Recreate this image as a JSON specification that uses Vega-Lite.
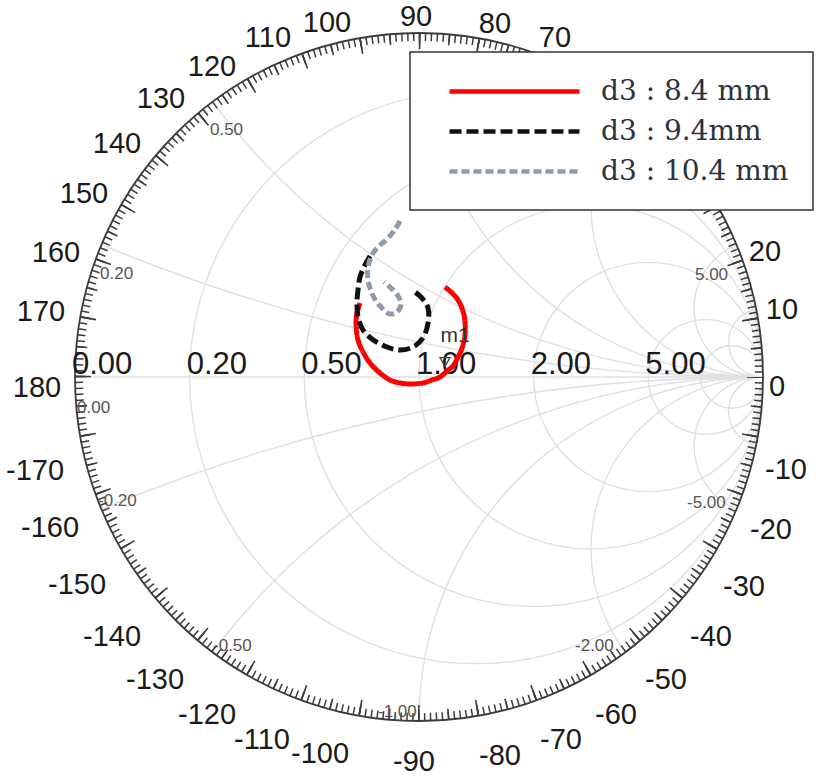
{
  "$schema": "https://vega.github.io/schema/vega-lite/v6.json",
  "width": 688,
  "height": 688,
  "autosize": {"type": "none"},
  "padding": {"left": 75, "top": 33, "right": 64, "bottom": 58},
  "background": "white",
  "config": {"view": {"stroke": null}},
  "datasets": {
    "grid": [
      {"name": "r0.2", "cx": 0.16667, "cy": 0, "rad": 0.83333},
      {"name": "r0.5", "cx": 0.33333, "cy": 0, "rad": 0.66667},
      {"name": "r1", "cx": 0.5, "cy": 0, "rad": 0.5},
      {"name": "r2", "cx": 0.66667, "cy": 0, "rad": 0.33333},
      {"name": "r5", "cx": 0.83333, "cy": 0, "rad": 0.16667},
      {"name": "r10", "cx": 0.90909, "cy": 0, "rad": 0.090909},
      {"name": "x0.2", "cx": 1, "cy": 5, "rad": 5},
      {"name": "x-0.2", "cx": 1, "cy": -5, "rad": 5},
      {"name": "x0.5", "cx": 1, "cy": 2, "rad": 2},
      {"name": "x-0.5", "cx": 1, "cy": -2, "rad": 2},
      {"name": "x1", "cx": 1, "cy": 1, "rad": 1},
      {"name": "x-1", "cx": 1, "cy": -1, "rad": 1},
      {"name": "x2", "cx": 1, "cy": 0.5, "rad": 0.5},
      {"name": "x-2", "cx": 1, "cy": -0.5, "rad": 0.5},
      {"name": "x5", "cx": 1, "cy": 0.2, "rad": 0.2},
      {"name": "x-5", "cx": 1, "cy": -0.2, "rad": 0.2},
      {"name": "x10", "cx": 1, "cy": 0.1, "rad": 0.1},
      {"name": "x-10", "cx": 1, "cy": -0.1, "rad": 0.1}
    ],
    "angles": [
      {"t": "0", "gx": 1.0407, "gy": -0.0291},
      {"t": "10", "gx": 1.0552, "gy": 0.1948},
      {"t": "20", "gx": 1.0058, "gy": 0.3634},
      {"t": "70", "gx": 0.3953, "gy": 0.9855},
      {"t": "80", "gx": 0.2209, "gy": 1.0262},
      {"t": "90", "gx": -0.0087, "gy": 1.0465},
      {"t": "100", "gx": -0.2674, "gy": 1.0291},
      {"t": "110", "gx": -0.4390, "gy": 0.9855},
      {"t": "120", "gx": -0.6017, "gy": 0.9012},
      {"t": "130", "gx": -0.7500, "gy": 0.8081},
      {"t": "140", "gx": -0.8779, "gy": 0.6773},
      {"t": "150", "gx": -0.9738, "gy": 0.5320},
      {"t": "160", "gx": -1.0552, "gy": 0.3605},
      {"t": "170", "gx": -1.0988, "gy": 0.1890},
      {"t": "180", "gx": -1.1105, "gy": -0.0320},
      {"t": "-170", "gx": -1.1163, "gy": -0.2733},
      {"t": "-160", "gx": -1.0727, "gy": -0.4390},
      {"t": "-150", "gx": -0.9942, "gy": -0.6047},
      {"t": "-140", "gx": -0.8924, "gy": -0.7558},
      {"t": "-130", "gx": -0.7674, "gy": -0.8808},
      {"t": "-120", "gx": -0.6163, "gy": -0.9826},
      {"t": "-110", "gx": -0.4564, "gy": -1.0552},
      {"t": "-100", "gx": -0.2878, "gy": -1.0959},
      {"t": "-90", "gx": -0.0145, "gy": -1.1192},
      {"t": "-80", "gx": 0.2355, "gy": -1.1017},
      {"t": "-70", "gx": 0.4128, "gy": -1.0552},
      {"t": "-60", "gx": 0.5727, "gy": -0.9826},
      {"t": "-50", "gx": 0.7180, "gy": -0.8808},
      {"t": "-40", "gx": 0.8488, "gy": -0.7558},
      {"t": "-30", "gx": 0.9448, "gy": -0.6105},
      {"t": "-20", "gx": 1.0233, "gy": -0.4448},
      {"t": "-10", "gx": 1.0669, "gy": -0.2703}
    ],
    "rlabels": [
      {"t": "0.00", "gx": -1.0087, "gy": 0.0349},
      {"t": "0.20", "gx": -0.6754, "gy": 0.0349},
      {"t": "0.50", "gx": -0.3420, "gy": 0.0349},
      {"t": "1.00", "gx": -0.0087, "gy": 0.0349},
      {"t": "2.00", "gx": 0.3246, "gy": 0.0349},
      {"t": "5.00", "gx": 0.6580, "gy": 0.0349}
    ],
    "xlabels": [
      {"t": "0.50", "gx": -0.6076, "gy": 0.7180},
      {"t": "0.20", "gx": -0.9273, "gy": 0.2994},
      {"t": "0.00", "gx": -0.9942, "gy": -0.0901},
      {"t": "-0.20", "gx": -0.9331, "gy": -0.3605},
      {"t": "-0.50", "gx": -0.5988, "gy": -0.7820},
      {"t": "-1.00", "gx": -0.1192, "gy": -0.9738},
      {"t": "-2.00", "gx": 0.4535, "gy": -0.7820},
      {"t": "-5.00", "gx": 0.7791, "gy": -0.3663},
      {"t": "5.00", "gx": 0.8023, "gy": 0.2965}
    ],
    "curves": [
      {"d3": "d3 : 8.4 mm", "i": 0, "gx": -0.1715, "gy": 0.2151},
      {"d3": "d3 : 8.4 mm", "i": 1, "gx": -0.1802, "gy": 0.1860},
      {"d3": "d3 : 8.4 mm", "i": 2, "gx": -0.1831, "gy": 0.1570},
      {"d3": "d3 : 8.4 mm", "i": 3, "gx": -0.1773, "gy": 0.1076},
      {"d3": "d3 : 8.4 mm", "i": 4, "gx": -0.1657, "gy": 0.0785},
      {"d3": "d3 : 8.4 mm", "i": 5, "gx": -0.1424, "gy": 0.0407},
      {"d3": "d3 : 8.4 mm", "i": 6, "gx": -0.1134, "gy": 0.0116},
      {"d3": "d3 : 8.4 mm", "i": 7, "gx": -0.0843, "gy": -0.0087},
      {"d3": "d3 : 8.4 mm", "i": 8, "gx": -0.0552, "gy": -0.0174},
      {"d3": "d3 : 8.4 mm", "i": 9, "gx": -0.0262, "gy": -0.0203},
      {"d3": "d3 : 8.4 mm", "i": 10, "gx": 0.0116, "gy": -0.0174},
      {"d3": "d3 : 8.4 mm", "i": 11, "gx": 0.0378, "gy": -0.0087},
      {"d3": "d3 : 8.4 mm", "i": 12, "gx": 0.0610, "gy": 0.0},
      {"d3": "d3 : 8.4 mm", "i": 13, "gx": 0.0814, "gy": 0.0174},
      {"d3": "d3 : 8.4 mm", "i": 14, "gx": 0.0988, "gy": 0.0320},
      {"d3": "d3 : 8.4 mm", "i": 15, "gx": 0.1134, "gy": 0.0581},
      {"d3": "d3 : 8.4 mm", "i": 16, "gx": 0.1250, "gy": 0.0843},
      {"d3": "d3 : 8.4 mm", "i": 17, "gx": 0.1337, "gy": 0.1221},
      {"d3": "d3 : 8.4 mm", "i": 18, "gx": 0.1337, "gy": 0.1599},
      {"d3": "d3 : 8.4 mm", "i": 19, "gx": 0.1279, "gy": 0.1919},
      {"d3": "d3 : 8.4 mm", "i": 20, "gx": 0.1134, "gy": 0.2238},
      {"d3": "d3 : 8.4 mm", "i": 21, "gx": 0.0959, "gy": 0.2442},
      {"d3": "d3 : 8.4 mm", "i": 22, "gx": 0.0756, "gy": 0.2616},
      {"d3": "d3 : 9.4mm", "i": 0, "gx": -0.1424, "gy": 0.3517},
      {"d3": "d3 : 9.4mm", "i": 1, "gx": -0.1570, "gy": 0.3256},
      {"d3": "d3 : 9.4mm", "i": 2, "gx": -0.1715, "gy": 0.2907},
      {"d3": "d3 : 9.4mm", "i": 3, "gx": -0.1773, "gy": 0.2529},
      {"d3": "d3 : 9.4mm", "i": 4, "gx": -0.1802, "gy": 0.2180},
      {"d3": "d3 : 9.4mm", "i": 5, "gx": -0.1773, "gy": 0.1744},
      {"d3": "d3 : 9.4mm", "i": 6, "gx": -0.1628, "gy": 0.1366},
      {"d3": "d3 : 9.4mm", "i": 7, "gx": -0.1366, "gy": 0.1105},
      {"d3": "d3 : 9.4mm", "i": 8, "gx": -0.0930, "gy": 0.0872},
      {"d3": "d3 : 9.4mm", "i": 9, "gx": -0.0552, "gy": 0.0785},
      {"d3": "d3 : 9.4mm", "i": 10, "gx": -0.0174, "gy": 0.0872},
      {"d3": "d3 : 9.4mm", "i": 11, "gx": 0.0116, "gy": 0.1134},
      {"d3": "d3 : 9.4mm", "i": 12, "gx": 0.0262, "gy": 0.1570},
      {"d3": "d3 : 9.4mm", "i": 13, "gx": 0.0262, "gy": 0.2006},
      {"d3": "d3 : 9.4mm", "i": 14, "gx": 0.0058, "gy": 0.2326},
      {"d3": "d3 : 9.4mm", "i": 15, "gx": -0.0203, "gy": 0.2529},
      {"d3": "d3 : 10.4 mm", "i": 0, "gx": -0.0552, "gy": 0.4535},
      {"d3": "d3 : 10.4 mm", "i": 1, "gx": -0.0727, "gy": 0.4244},
      {"d3": "d3 : 10.4 mm", "i": 2, "gx": -0.0959, "gy": 0.3983},
      {"d3": "d3 : 10.4 mm", "i": 3, "gx": -0.1221, "gy": 0.3750},
      {"d3": "d3 : 10.4 mm", "i": 4, "gx": -0.1395, "gy": 0.3488},
      {"d3": "d3 : 10.4 mm", "i": 5, "gx": -0.1483, "gy": 0.3169},
      {"d3": "d3 : 10.4 mm", "i": 6, "gx": -0.1483, "gy": 0.2820},
      {"d3": "d3 : 10.4 mm", "i": 7, "gx": -0.1395, "gy": 0.2500},
      {"d3": "d3 : 10.4 mm", "i": 8, "gx": -0.1250, "gy": 0.2209},
      {"d3": "d3 : 10.4 mm", "i": 9, "gx": -0.1047, "gy": 0.1977},
      {"d3": "d3 : 10.4 mm", "i": 10, "gx": -0.0843, "gy": 0.1831},
      {"d3": "d3 : 10.4 mm", "i": 11, "gx": -0.0640, "gy": 0.1890},
      {"d3": "d3 : 10.4 mm", "i": 12, "gx": -0.0523, "gy": 0.2122},
      {"d3": "d3 : 10.4 mm", "i": 13, "gx": -0.0610, "gy": 0.2355},
      {"d3": "d3 : 10.4 mm", "i": 14, "gx": -0.0814, "gy": 0.2587},
      {"d3": "d3 : 10.4 mm", "i": 15, "gx": -0.1017, "gy": 0.2762}
    ]
  },
  "layer": [
    {
      "data": {"name": "grid"},
      "mark": {"type": "point", "shape": "circle", "filled": false, "stroke": "#e0e0e0", "strokeWidth": 1.4, "opacity": 1},
      "encoding": {
        "x": {"field": "cx", "type": "quantitative", "scale": {"domain": [-1, 1], "nice": false, "zero": false}, "axis": null},
        "y": {"field": "cy", "type": "quantitative", "scale": {"domain": [-1, 1], "nice": false, "zero": false}, "axis": null},
        "size": {"field": "rad", "type": "quantitative", "scale": {"type": "pow", "exponent": 2, "domain": [0, 1], "range": [0, 473344]}, "legend": null}
      }
    },
    {
      "data": {"values": [{"a": -1, "b": 1, "c": 0}]},
      "mark": {"type": "rule", "color": "#e0e0e0", "strokeWidth": 1.4},
      "encoding": {
        "x": {"field": "a", "type": "quantitative"},
        "x2": {"field": "b"},
        "y": {"field": "c", "type": "quantitative"}
      }
    },
    {
      "data": {"values": [{"cx": 0, "cy": 0, "rad": 2.744186}]},
      "mark": {"type": "point", "shape": "circle", "filled": false, "stroke": "white", "strokeWidth": 1200, "opacity": 1},
      "encoding": {
        "x": {"field": "cx", "type": "quantitative"},
        "y": {"field": "cy", "type": "quantitative"},
        "size": {"field": "rad", "type": "quantitative", "legend": null}
      }
    },
    {
      "data": {"values": [{"cx": 0, "cy": 0, "rad": 1}]},
      "mark": {"type": "point", "shape": "circle", "filled": false, "stroke": "#3c3c3c", "strokeWidth": 1.8, "opacity": 1},
      "encoding": {
        "x": {"field": "cx", "type": "quantitative"},
        "y": {"field": "cy", "type": "quantitative"},
        "size": {"field": "rad", "type": "quantitative", "legend": null}
      }
    },
    {
      "data": {"values": [{"cx": 0, "cy": 0, "rad": 0.988372}]},
      "mark": {"type": "point", "shape": "circle", "filled": false, "stroke": "#3c3c3c", "strokeWidth": 8, "strokeDash": [1.5, 4.43412], "strokeDashOffset": 0.75, "opacity": 1},
      "encoding": {
        "x": {"field": "cx", "type": "quantitative"},
        "y": {"field": "cy", "type": "quantitative"},
        "size": {"field": "rad", "type": "quantitative", "legend": null}
      }
    },
    {
      "data": {"values": [{"cx": 0, "cy": 0, "rad": 0.984012}]},
      "mark": {"type": "point", "shape": "circle", "filled": false, "stroke": "#3c3c3c", "strokeWidth": 11, "strokeDash": [1.6, 27.93969], "strokeDashOffset": 0.8, "opacity": 1},
      "encoding": {
        "x": {"field": "cx", "type": "quantitative"},
        "y": {"field": "cy", "type": "quantitative"},
        "size": {"field": "rad", "type": "quantitative", "legend": null}
      }
    },
    {
      "data": {"values": [{"cx": 0, "cy": 0, "rad": 0.976744}]},
      "mark": {"type": "point", "shape": "circle", "filled": false, "stroke": "#3c3c3c", "strokeWidth": 16, "strokeDash": [1.6, 57.04306], "strokeDashOffset": 0.8, "opacity": 1},
      "encoding": {
        "x": {"field": "cx", "type": "quantitative"},
        "y": {"field": "cy", "type": "quantitative"},
        "size": {"field": "rad", "type": "quantitative", "legend": null}
      }
    },
    {
      "data": {"name": "rlabels"},
      "mark": {"type": "text", "align": "left", "baseline": "middle", "font": "Liberation Sans", "fontSize": 31, "color": "#1a1a1a"},
      "encoding": {
        "x": {"field": "gx", "type": "quantitative"},
        "y": {"field": "gy", "type": "quantitative"},
        "text": {"field": "t"}
      }
    },
    {
      "data": {"name": "xlabels"},
      "mark": {"type": "text", "align": "left", "baseline": "middle", "font": "Liberation Sans", "fontSize": 17, "color": "#555555"},
      "encoding": {
        "x": {"field": "gx", "type": "quantitative"},
        "y": {"field": "gy", "type": "quantitative"},
        "text": {"field": "t"}
      }
    },
    {
      "data": {"name": "angles"},
      "mark": {"type": "text", "align": "center", "baseline": "middle", "font": "Liberation Sans", "fontSize": 29, "color": "#1a1a1a"},
      "encoding": {
        "x": {"field": "gx", "type": "quantitative"},
        "y": {"field": "gy", "type": "quantitative"},
        "text": {"field": "t"}
      }
    },
    {
      "data": {"name": "curves"},
      "mark": {"type": "line", "strokeWidth": 5, "interpolate": "catmull-rom", "strokeCap": "butt"},
      "encoding": {
        "x": {"field": "gx", "type": "quantitative"},
        "y": {"field": "gy", "type": "quantitative"},
        "order": {"field": "i", "type": "quantitative"},
        "color": {
          "field": "d3", "type": "nominal",
          "scale": {"domain": ["d3 : 8.4 mm", "d3 : 9.4mm", "d3 : 10.4 mm"], "range": ["#ff0000", "#111111", "#8e9bab"]},
          "legend": {
            "title": null, "orient": "none", "legendX": 335, "legendY": 19, "zindex": 2,
            "fillColor": "white", "strokeColor": "#333333", "padding": 24,
            "symbolType": "M0,0H10", "symbolSize": 676, "symbolStrokeWidth": 4.5,
            "labelFont": "DejaVu Serif", "labelFontSize": 28, "labelColor": "#2b3340", "labelLimit": 400,
            "labelOffset": 136, "rowPadding": 10,
            "encode": {
              "legend": {"update": {"strokeWidth": {"value": 1.5}}},
              "symbols": {"update": {"strokeDash": {"signal": "datum.value === 'd3 : 9.4mm' ? [28, 20] : datum.value === 'd3 : 10.4 mm' ? [21, 6] : [1, 0]"}, "fill": {"value": "transparent"}}}
            }
          }
        },
        "strokeDash": {
          "field": "d3", "type": "nominal",
          "scale": {"domain": ["d3 : 8.4 mm", "d3 : 9.4mm", "d3 : 10.4 mm"], "range": [[1, 0], [12, 5], [8, 4]]},
          "legend": null
        }
      }
    },
    {
      "data": {"values": [{"gx": 0.0756, "gy": 0.0436}]},
      "mark": {"type": "point", "shape": "triangle-down", "filled": false, "stroke": "#444444", "strokeWidth": 1.3, "size": 100, "opacity": 1},
      "encoding": {
        "x": {"field": "gx", "type": "quantitative"},
        "y": {"field": "gy", "type": "quantitative"}
      }
    },
    {
      "data": {"values": [{"gx": 0.1047, "gy": 0.1192, "t": "m1"}]},
      "mark": {"type": "text", "align": "center", "baseline": "middle", "font": "Liberation Sans", "fontSize": 21, "color": "#333333"},
      "encoding": {
        "x": {"field": "gx", "type": "quantitative"},
        "y": {"field": "gy", "type": "quantitative"},
        "text": {"field": "t"}
      }
    }
  ]
}
